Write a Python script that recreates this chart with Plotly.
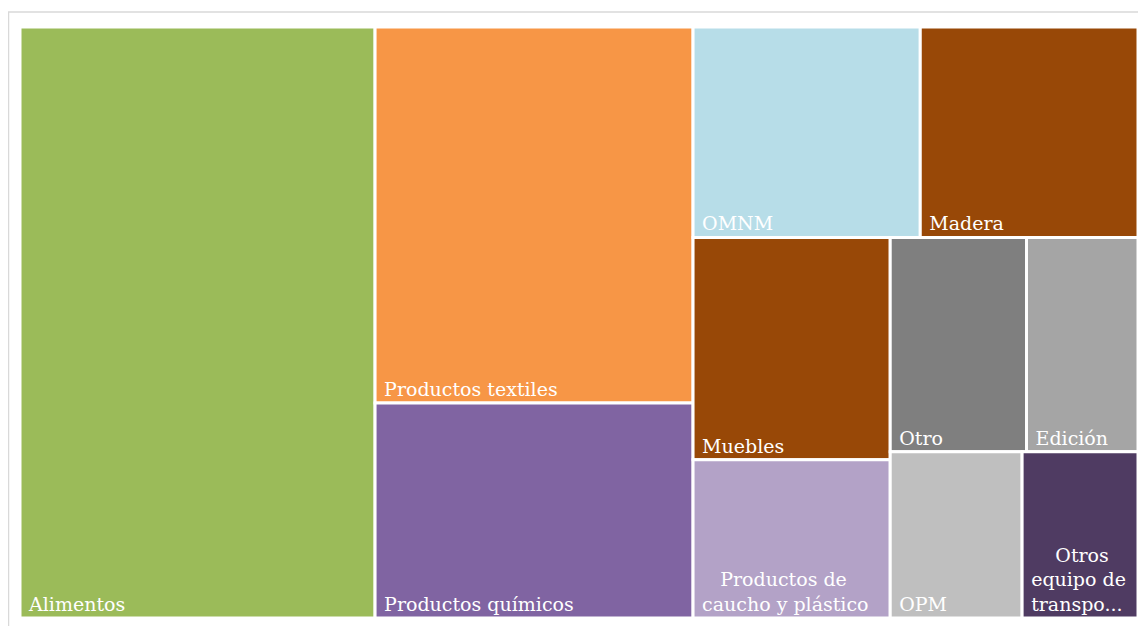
import plotly.graph_objects as go

# sectores y participación (%)
sectores = ["Alimentos", "Productos textiles", "Productos químicos", "OMNM", "Madera",
            "Muebles", "Productos de caucho y plástico", "Otro", "Edición", "OPM",
            "Otros equipo de transporte"]
etiquetas = ["Alimentos", "Productos textiles", "Productos químicos", "OMNM", "Madera",
             "Muebles", "\u00a0\u00a0\u00a0Productos de<br>caucho y plástico", "Otro", "Edición", "OPM",
             "\u00a0\u00a0\u00a0\u00a0Otros<br>equipo de<br>transpo..."]
valores = [31.6, 18.0, 10.3, 7.2, 6.9, 6.6, 4.7, 4.4, 3.6, 3.3, 2.9]
colores = ["#9BBB59", "#F79646", "#8064A2", "#B7DDE8", "#984807", "#984807",
           "#B3A2C7", "#7F7F7F", "#A5A5A5", "#BFBFBF", "#4F3B62"]

# un espacio delante de cada línea para separar el texto del borde
textos = ["<br>".join("\u00a0" + l for l in e.split("<br>")) for e in etiquetas]

fig = go.Figure(go.Treemap(
    ids=sectores,
    labels=sectores,
    parents=[""] * len(sectores),
    values=valores,
    text=textos,
    texttemplate="%{text}",
    textposition="bottom left",
    textfont=dict(family="DejaVu Serif", size=19, color="white"),
    marker=dict(colors=colores, line=dict(color="white", width=3),
                pad=dict(t=0, l=0, r=0, b=0)),
    tiling=dict(packing="squarify", squarifyratio=1, pad=0),
    pathbar=dict(visible=False),
    sort=True,
    hoverinfo="label+value",
))

# marco gris claro alrededor del gráfico
fig.add_shape(type="rect", xref="paper", yref="paper",
              x0=-0.0103, x1=1.01, y0=-0.05, y1=1.0254,
              line=dict(color="#D9D9D9", width=1.5), layer="below")

# la página añade 8 px de margen al cuerpo
fig.update_layout(
    width=1130, height=618,
    margin=dict(l=12, r=0, t=19, b=8),
    paper_bgcolor="white",
    showlegend=False,
)

fig.write_html("out.html")
